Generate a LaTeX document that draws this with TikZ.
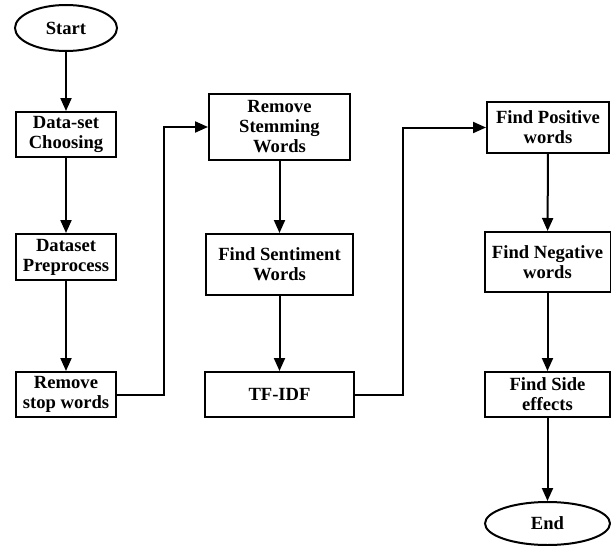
\documentclass[tikz,border=0pt]{standalone}
\usepackage{fontspec}
\setmainfont{Liberation Serif}
\usetikzlibrary{shapes.geometric,arrows.meta}

\begin{document}
\begin{tikzpicture}[x=1pt,y=-1pt,
  every node/.style={inner sep=0pt,font=\bfseries\fontsize{18.6}{20}\selectfont,align=center},
  stepbox/.style={draw=black,line width=2pt,rectangle},
  terminal/.style={draw=black,line width=2pt,ellipse},
  flow/.style={draw=black,line width=2pt,-{Triangle[width=11pt,length=13pt]}}]
\useasboundingbox (0,0) rectangle (611,546);
% first column
\node [terminal,minimum width=102pt,minimum height=46pt] (start) at (66,28) {Start};
\node [stepbox,minimum width=100pt,minimum height=45pt] (choose) at (66,134.5) {Data-set\\Choosing};
\node [stepbox,minimum width=100pt,minimum height=46pt] (prep) at (66,257) {Dataset\\Preprocess};
\node [stepbox,minimum width=100pt,minimum height=45pt] (stopw) at (66,394.5) {Remove\\stop words};
% second column
\node [stepbox,minimum width=141pt,minimum height=66pt] (stem) at (279.5,127) {Remove\\Stemming\\Words};
\node [stepbox,minimum width=147pt,minimum height=61pt] (senti) at (279.5,264.5) {Find Sentiment\\Words};
\node [stepbox,minimum width=149pt,minimum height=45pt] (tfidf) at (279.5,394.5) {TF-IDF};
% third column
\node [stepbox,minimum width=122pt,minimum height=51pt] (pos) at (548,127.5) {Find Positive\\words};
\node [stepbox,minimum width=126pt,minimum height=60pt] (neg) at (547.5,262) {Find Negative\\words};
\node [stepbox,minimum width=125pt,minimum height=45pt] (side) at (547.5,394.5) {Find Side\\effects};
\node [terminal,minimum width=125pt,minimum height=43pt] (end) at (547.5,523.5) {End};
\coordinate (bendA) at (164,394.5);
\coordinate (bendB) at (403,394.5);
\draw [flow] (start) -- (choose);
\draw [flow] (choose) -- (prep);
\draw [flow] (prep) -- (stopw);
\draw [flow] (stopw.east) -- (bendA) |- (stem.west);
\draw [flow] (stem) -- (senti);
\draw [flow] (senti) -- (tfidf);
\draw [flow] (tfidf.east) -- (bendB) |- (pos.west);
\draw [flow] (pos) -- (neg);
\draw [flow] (neg) -- (side);
\draw [flow] (side) -- (end);
\end{tikzpicture}
\end{document}
